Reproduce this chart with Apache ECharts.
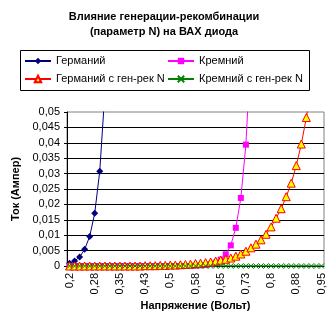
<!DOCTYPE html>
<html><head><meta charset="utf-8">
<script src="https://cdn.jsdelivr.net/npm/echarts@6/dist/echarts.min.js"></script>
<style>html,body{margin:0;padding:0;background:#fff}#c{width:328px;height:327px}</style>
</head><body><div id="c"></div>
<script>
var categories = [0.2,0.215,0.23,0.245,0.26,0.275,0.29,0.305,0.32,0.335,0.35,0.365,0.38,0.395,0.41,0.425,0.44,0.455,0.47,0.485,0.5,0.515,0.53,0.545,0.56,0.575,0.59,0.605,0.62,0.635,0.65,0.665,0.68,0.695,0.71,0.725,0.74,0.755,0.77,0.785,0.8,0.815,0.83,0.845,0.86,0.875,0.89,0.905,0.92,0.935,0.95];
var tickLabels = ["0,2","0,28","0,35","0,43","0,5","0,58","0,65","0,73","0,8","0,88","0,95"];
var germanium = [0.0009,0.0016,0.0029,0.0054,0.0096,0.0171,0.0308,0.056,0.1];
var silicon = [0,0,0,0,0,0,0,0,0,0,0,0,0,0,0,0,0,0,0,0,0,0,0,0,0,0.0001,0.0002,0.0003,0.0006,0.0011,0.0021,0.0038,0.0067,0.0124,0.0221,0.0394,0.071,0.13];
var germaniumGR = [0,0,0,0,0,0,0,0,0,0,0,0,0,0,0,0.0001,0.0001,0.0001,0.0002,0.0002,0.0003,0.0003,0.0004,0.0005,0.0006,0.0008,0.0009,0.0011,0.0013,0.0016,0.0019,0.0022,0.0026,0.0032,0.0039,0.0048,0.0059,0.0071,0.0085,0.0103,0.0127,0.0155,0.0186,0.0225,0.0269,0.0326,0.0396,0.0482,0.058,0.071,0.086];
var siliconGR = [0,0,0,0,0,0,0,0,0,0,0,0,0,0,0,0,0,0,0,0,0,0,0,0,0,0,0,0,0,0,0,0,0,0,0,0,0,0,0,0,0,0,0,0,0,0,0,0,0,0,0];
var seriesNames = ["Германий","Кремний","Германий с ген-рек N","Кремний с ген-рек N"];

var FONT = "Liberation Sans";
var chart = echarts.init(document.getElementById('c'), null, {renderer:'canvas'});
var crossPath = 'path://M0,0L10,10M10,0L0,10';
var legendBase = {orient:'vertical', top:55, itemGap:6, itemWidth:26, itemHeight:8, padding:0,
  textStyle:{fontFamily:FONT,fontSize:11,color:'#000',lineHeight:12}};
chart.setOption({
  animation:false,
  backgroundColor:'#fff',
  textStyle:{fontFamily:FONT,color:'#000'},
  title:{
    text:"Влияние генерации-рекомбинации\n(параметр N) на ВАХ диода",
    left:'center', top:9, padding:0,
    textStyle:{fontFamily:FONT,fontSize:11,fontWeight:'bold',color:'#000',lineHeight:15}
  },
  legend:[
    Object.assign({data:[seriesNames[0],seriesNames[2]], left:24}, legendBase),
    Object.assign({data:[seriesNames[1],seriesNames[3]], left:167}, legendBase)
  ],
  graphic:[{type:'rect',shape:{x:20.5,y:50.5,width:289,height:40},style:{fill:'none',stroke:'#000',lineWidth:1},z:-1}],
  grid:{left:67,right:4,top:112,bottom:61,containLabel:false,outerBoundsMode:'none',show:true,borderColor:'#808080',borderWidth:1,backgroundColor:'#fff'},
  xAxis:{
    type:'category', data:categories, boundaryGap:true,
    name:"Напряжение (Вольт)", nameLocation:'middle', nameGap:34,
    nameTextStyle:{fontFamily:FONT,fontSize:11,fontWeight:'bold',color:'#000'},
    axisLine:{lineStyle:{color:'#000',width:1}},
    axisTick:{show:false},
    axisLabel:{interval:4, rotate:90, margin:7, fontFamily:FONT, fontSize:11, color:'#000',
      formatter:function(v,i){return tickLabels[Math.round(i/5)];}},
    splitLine:{show:false}
  },
  yAxis:{
    type:'value', min:0, max:0.05, interval:0.005,
    name:"Ток (Ампер)", nameLocation:'middle', nameGap:42, nameRotate:90,
    nameTextStyle:{fontFamily:FONT,fontSize:11,fontWeight:'bold',color:'#000'},
    axisLine:{show:true,lineStyle:{color:'#000',width:1}},
    axisTick:{show:true,length:3,lineStyle:{color:'#000'}},
    axisLabel:{margin:7,fontFamily:FONT,fontSize:11,color:'#000',
      formatter:function(v){return String(+v.toFixed(4)).replace('.',',');}},
    splitLine:{show:true,showMaxLine:false,lineStyle:{color:'#000',width:1}}
  },
  series:[
    {name:seriesNames[0],type:'line',data:germanium,symbol:'diamond',symbolSize:7,clip:true,showAllSymbol:true,
     itemStyle:{color:'#000080'},lineStyle:{color:'#000080',width:1}},
    {name:seriesNames[1],type:'line',data:silicon,symbol:'rect',symbolSize:6,clip:true,showAllSymbol:true,
     itemStyle:{color:'#FF00FF'},lineStyle:{color:'#FF00FF',width:1}},
    {name:seriesNames[2],type:'line',data:germaniumGR,symbol:'triangle',symbolSize:8,clip:true,showAllSymbol:true,
     itemStyle:{color:'#FFFF00',borderColor:'#FF0000',borderWidth:1},lineStyle:{color:'#FF0000',width:1}},
    {name:seriesNames[3],type:'line',data:siliconGR,symbol:crossPath,symbolSize:5,clip:true,showAllSymbol:true,
     itemStyle:{color:'none',borderColor:'#008000',borderWidth:1},lineStyle:{color:'#008000',width:1}}
  ]
});
</script></body></html>
